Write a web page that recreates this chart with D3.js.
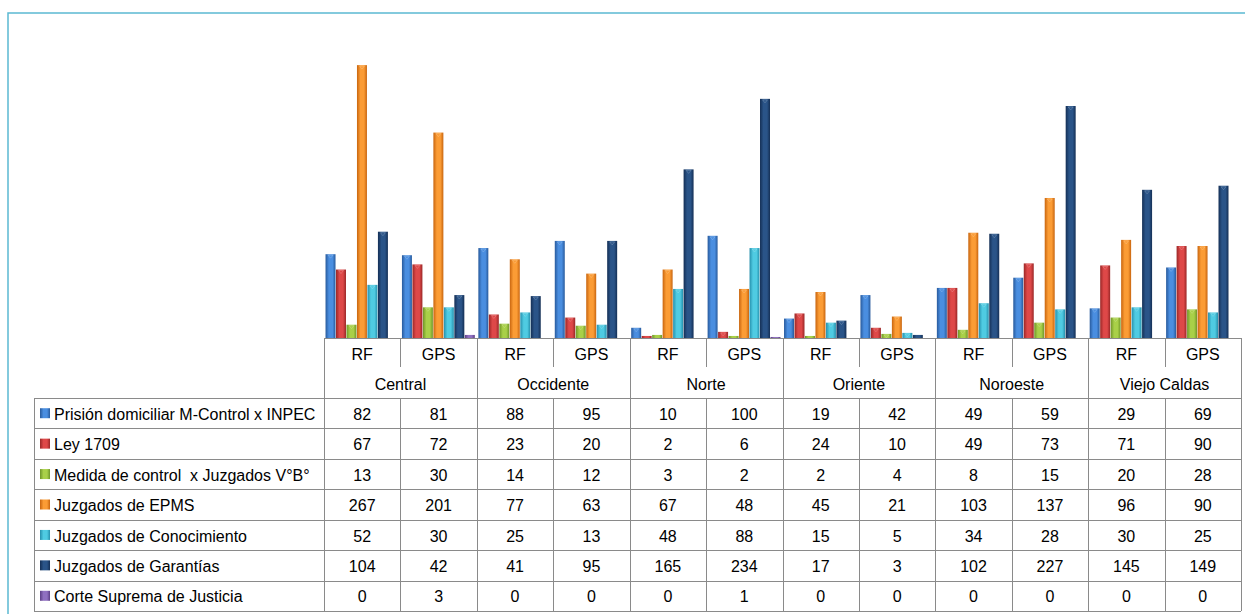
<!DOCTYPE html>
<html>
<head>
<meta charset="utf-8">
<script src="https://cdn.jsdelivr.net/npm/d3@7"></script>
<style>
  body { margin: 0; background: #fff; }
  svg { display: block; font-family: "Liberation Sans", Arial, sans-serif; }
  text { white-space: pre; }
</style>
</head>
<body>
<svg id="chart" width="1245" height="614"></svg>
<script>
var regions = ["Central", "Occidente", "Norte", "Oriente", "Noroeste", "Viejo Caldas"];
var subCats = ["RF", "GPS"];
var seriesNames = [
  "Prisión domiciliar M-Control x INPEC",
  "Ley 1709",
  "Medida de control  x Juzgados V°B°",
  "Juzgados de EPMS",
  "Juzgados de Conocimiento",
  "Juzgados de Garantías",
  "Corte Suprema de Justicia"
];
var prision = [82, 81, 88, 95, 10, 100, 19, 42, 49, 59, 29, 69];
var ley1709 = [67, 72, 23, 20, 2, 6, 24, 10, 49, 73, 71, 90];
var medida = [13, 30, 14, 12, 3, 2, 2, 4, 8, 15, 20, 28];
var epms = [267, 201, 77, 63, 67, 48, 45, 21, 103, 137, 96, 90];
var conocimiento = [52, 30, 25, 13, 48, 88, 15, 5, 34, 28, 30, 25];
var garantias = [104, 42, 41, 95, 165, 234, 17, 3, 102, 227, 145, 149];
var corte = [0, 3, 0, 0, 0, 1, 0, 0, 0, 0, 0, 0];

var seriesValues = [prision, ley1709, medida, epms, conocimiento, garantias, corte];
// [light centre, dark edge]
var seriesColors = [
  ["#4a8ee0", "#285a9c"],
  ["#de4848", "#9a2727"],
  ["#a9d048", "#6f9528"],
  ["#fb9c35", "#c8650f"],
  ["#4fcbe2", "#2690ad"],
  ["#2a5488", "#142f55"],
  ["#9070c0", "#5c3f85"]
];

var svg = d3.select("#chart");
var defs = svg.append("defs");

seriesColors.forEach(function (c, i) {
  var g = defs.append("linearGradient")
    .attr("id", "grad" + i)
    .attr("x1", "0").attr("x2", "1").attr("y1", "0").attr("y2", "0");
  g.append("stop").attr("offset", "0").attr("stop-color", c[1]);
  g.append("stop").attr("offset", "0.35").attr("stop-color", c[0]);
  g.append("stop").attr("offset", "0.7").attr("stop-color", c[0]);
  g.append("stop").attr("offset", "1").attr("stop-color", c[1]);
});

// chart frame
svg.append("rect")
  .attr("x", 8).attr("y", 13)
  .attr("width", 1260).attr("height", 620)
  .attr("fill", "none")
  .attr("stroke", "#5bb9d2")
  .attr("stroke-width", 1.5);

var cols = [];
regions.forEach(function (r) {
  subCats.forEach(function (s) { cols.push(r + "|" + s); });
});

var tableLeft = 34, plotLeft = 324, plotRight = 1241;
var baseY = 338, headTop = 338, dataTop = 398, rowH = 30.43;

var x = d3.scaleBand().domain(cols).range([plotLeft, plotRight]).paddingInner(0.04).paddingOuter(0.02);
var xs = d3.scaleBand().domain(d3.range(seriesNames.length)).range([0, x.bandwidth()]);
var xCol = d3.scaleBand().domain(cols).range([plotLeft, plotRight]);
var y = d3.scaleLinear().domain([0, 300]).range([baseY, baseY - 306.6]);

// bars
var barsG = svg.append("g").attr("class", "bars");
seriesValues.forEach(function (vals, si) {
  var g = barsG.append("g");
  var data = vals.map(function (v, ci) { return { col: cols[ci], v: v }; });
  g.selectAll("rect")
    .data(data)
    .enter()
    .append("rect")
    .attr("x", function (d) { return x(d.col) + xs(si); })
    .attr("y", function (d) { return y(d.v); })
    .attr("width", xs.bandwidth() - 0.5)
    .attr("height", function (d) { return baseY - y(d.v); })
    .attr("fill", "url(#grad" + si + ")");
  // little highlight on top of each bar
  g.selectAll("path")
    .data(data.filter(function (d) { return baseY - y(d.v) > 4; }))
    .enter()
    .append("path")
    .attr("d", function (d) {
      var bx = x(d.col) + xs(si), bw = xs.bandwidth() - 0.5, ty = y(d.v);
      return "M" + (bx + bw * 0.25) + "," + (ty + 1) + "L" + (bx + bw * 0.75) + "," + (ty + 1) + "L" + (bx + bw * 0.5) + "," + (ty + 4) + "Z";
    })
    .attr("fill", seriesColors[si][0])
    .attr("opacity", 0.9)
    .attr("stroke", "#fff")
    .attr("stroke-opacity", 0.35)
    .attr("stroke-width", 0.6);
});

// data table lines
var lines = svg.append("g").attr("stroke", "#8a8a8a").attr("stroke-width", 1).attr("shape-rendering", "crispEdges");
var tableBottom = dataTop + rowH * seriesNames.length;

lines.append("line").attr("x1", plotLeft).attr("x2", plotRight).attr("y1", baseY).attr("y2", baseY);
for (var r = 0; r <= seriesNames.length; r++) {
  var ly = Math.round(dataTop + rowH * r);
  lines.append("line").attr("x1", tableLeft).attr("x2", plotRight).attr("y1", ly).attr("y2", ly);
}
lines.append("line").attr("x1", tableLeft).attr("x2", tableLeft).attr("y1", dataTop).attr("y2", tableBottom);
cols.forEach(function (c, i) {
  var lx = Math.round(xCol(c));
  if (i % 2 === 0) {
    lines.append("line").attr("x1", lx).attr("x2", lx).attr("y1", headTop).attr("y2", tableBottom);
  } else {
    lines.append("line").attr("x1", lx).attr("x2", lx).attr("y1", headTop).attr("y2", headTop + 29);
    lines.append("line").attr("x1", lx).attr("x2", lx).attr("y1", dataTop).attr("y2", tableBottom);
  }
});
lines.append("line").attr("x1", plotRight).attr("x2", plotRight).attr("y1", headTop).attr("y2", tableBottom);

// header texts
var txt = svg.append("g").attr("font-size", 16).attr("fill", "#000");
txt.selectAll("text.sub")
  .data(cols)
  .enter()
  .append("text")
  .attr("class", "sub")
  .attr("x", function (d) { return xCol(d) + xCol.bandwidth() / 2; })
  .attr("y", headTop + 16)
  .attr("dy", "0.35em")
  .attr("text-anchor", "middle")
  .text(function (d) { return d.split("|")[1]; });

txt.selectAll("text.reg")
  .data(regions)
  .enter()
  .append("text")
  .attr("class", "reg")
  .attr("x", function (d) { return xCol(d + "|RF") + xCol.bandwidth(); })
  .attr("y", headTop + 46)
  .attr("dy", "0.35em")
  .attr("text-anchor", "middle")
  .text(function (d) { return d; });

// row labels with legend keys
seriesNames.forEach(function (name, si) {
  var cy = dataTop + rowH * (si + 0.5) + 1;
  svg.append("rect")
    .attr("x", 40).attr("y", cy - 6)
    .attr("width", 10).attr("height", 10)
    .attr("fill", "url(#grad" + si + ")");
  txt.append("text")
    .attr("x", 54).attr("y", cy)
    .attr("dy", "0.35em")
    .text(name);
  txt.selectAll("text.v" + si)
    .data(seriesValues[si])
    .enter()
    .append("text")
    .attr("class", "v" + si)
    .attr("x", function (d, i) { return xCol(cols[i]) + xCol.bandwidth() / 2; })
    .attr("y", cy)
    .attr("dy", "0.35em")
    .attr("text-anchor", "middle")
    .text(function (d) { return d; });
});
</script>
</body>
</html>
